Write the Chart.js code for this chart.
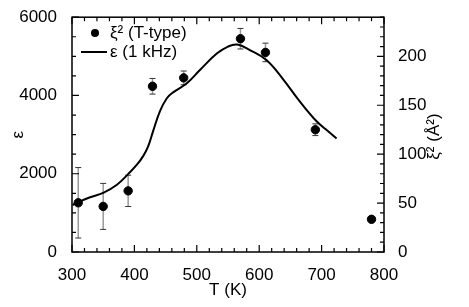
<!DOCTYPE html>
<html>
<head>
<meta charset="utf-8">
<script src="https://cdn.jsdelivr.net/npm/chart.js@4.4.0/dist/chart.umd.min.js"></script>
<style>
  html, body { margin: 0; padding: 0; background: #fff; }
  #wrap { width: 469px; height: 307px; }
</style>
</head>
<body>
<div id="wrap"><canvas id="chart" width="469" height="307"></canvas></div>
<script>
// ── Data ──────────────────────────────────────────────────────
// ξ² (T-type), right axis, with error bars
const xiTemps  = [310, 350, 390, 429, 479, 570, 610, 690, 780];
const xiValues = [50.3, 46.6, 62.5, 169.4, 178, 218, 204, 125, 33.4];
const xiErrors = [36, 23.5, 16, 8, 7, 10.5, 9.5, 6, 0];

// ε (1 kHz), left axis
const epsTemps  = [301, 308, 329, 350, 372, 390, 404, 414, 422, 430, 441, 452, 462, 484, 505, 532, 550, 565, 585, 612, 639, 665, 692, 710, 724];
const epsValues = [1200, 1260, 1400, 1510, 1720, 1990, 2230, 2450, 2700, 3090, 3600, 3930, 4080, 4310, 4650, 5070, 5250, 5300, 5160, 4900, 4400, 3850, 3340, 3090, 2900];

// axis ranges / tick steps
const xRange   = [300, 800];   const xMajor = 100;  const xMinor = 20;
const epsRange = [0, 6000];    const epsMajor = 2000; const epsMinor = 500;
const xiRange  = [0, 240];     const xiMajor = 50;  const xiMinor = 10;

const FONT = "'Liberation Sans', Arial, Helvetica, sans-serif";

// ── Frame, inward ticks, error bars, titles, legend ──────────
const framePlugin = {
  id: 'frame',
  beforeDatasetsDraw(chart) {
    const { ctx, scales: { x, y1 } } = chart;
    ctx.save();
    xiTemps.forEach((t, i) => {
      const e = xiErrors[i];
      if (!e) return;
      const px = x.getPixelForValue(t);
      const top = y1.getPixelForValue(xiValues[i] + e);
      const bot = y1.getPixelForValue(xiValues[i] - e);
      ctx.strokeStyle = '#999';
      ctx.lineWidth = 1.5;
      ctx.beginPath(); ctx.moveTo(px, top); ctx.lineTo(px, bot); ctx.stroke();
      ctx.strokeStyle = '#333';
      ctx.lineWidth = 1;
      ctx.beginPath();
      ctx.moveTo(px - 3, top); ctx.lineTo(px + 3, top);
      ctx.moveTo(px - 3, bot); ctx.lineTo(px + 3, bot);
      ctx.stroke();
    });
    ctx.restore();
  },
  afterDraw(chart) {
    const { ctx, chartArea: a, scales: { x, y, y1 } } = chart;
    ctx.save();
    ctx.strokeStyle = '#000';
    ctx.lineWidth = 1.5;
    ctx.strokeRect(a.left, a.top, a.right - a.left, a.bottom - a.top);

    ctx.lineWidth = 1.2;
    ctx.beginPath();
    for (let v = xRange[0]; v <= xRange[1]; v += xMinor) {
      const p = x.getPixelForValue(v);
      const len = v % xMajor === 0 ? 7 : 4;
      ctx.moveTo(p, a.bottom); ctx.lineTo(p, a.bottom - len);
      ctx.moveTo(p, a.top);    ctx.lineTo(p, a.top + len);
    }
    for (let v = epsRange[0]; v <= epsRange[1]; v += epsMinor) {
      const p = y.getPixelForValue(v);
      const len = v % epsMajor === 0 ? 7 : 4;
      ctx.moveTo(a.left, p); ctx.lineTo(a.left + len, p);
    }
    for (let v = xiRange[0]; v <= xiRange[1]; v += xiMinor) {
      const p = y1.getPixelForValue(v);
      const len = v % xiMajor === 0 ? 7 : 4;
      ctx.moveTo(a.right, p); ctx.lineTo(a.right - len, p);
    }
    ctx.stroke();

    // axis titles
    ctx.fillStyle = '#000';
    ctx.font = `17px ${FONT}`;
    ctx.textAlign = 'center';
    ctx.textBaseline = 'middle';
    ctx.fillText('T (K)', (a.left + a.right) / 2, 290);

    ctx.save();
    ctx.translate(18, (a.top + a.bottom) / 2);
    ctx.rotate(-Math.PI / 2);
    ctx.fillText('ε', 0, 0);
    ctx.restore();

    ctx.save();
    ctx.translate(434, (a.top + a.bottom) / 2 + 2);
    ctx.rotate(-Math.PI / 2);
    ctx.fillText('ξ² (Å²)', 0, 0);
    ctx.restore();

    // legend
    ctx.textAlign = 'left';
    ctx.beginPath();
    ctx.arc(95, 33, 4, 0, Math.PI * 2);
    ctx.fill();
    ctx.fillText('ξ² (T-type)', 110, 33);
    ctx.lineWidth = 2;
    ctx.beginPath();
    ctx.moveTo(81, 52); ctx.lineTo(107, 52);
    ctx.stroke();
    ctx.fillText('ε (1 kHz)', 110, 52);
    ctx.restore();
  }
};

const tickFont = { family: FONT, size: 17 };

new Chart(document.getElementById('chart'), {
  data: {
    datasets: [
      {
        type: 'scatter',
        label: 'ξ² (T-type)',
        data: xiTemps.map((t, i) => ({ x: t, y: xiValues[i] })),
        yAxisID: 'y1',
        backgroundColor: '#000',
        borderColor: '#000',
        pointRadius: 4.2,
        order: 0,
      },
      {
        type: 'line',
        label: 'ε (1 kHz)',
        data: epsTemps.map((t, i) => ({ x: t, y: epsValues[i] })),
        yAxisID: 'y',
        borderColor: '#000',
        borderWidth: 2,
        pointRadius: 0,
        tension: 0.4,
        fill: false,
        order: 1,
      }
    ]
  },
  options: {
    responsive: false,
    animation: false,
    layout: { padding: { top: 15, left: 0, right: 0, bottom: 0 } },
    plugins: { legend: { display: false }, tooltip: { enabled: false } },
    scales: {
      x: {
        type: 'linear', position: 'bottom',
        min: xRange[0], max: xRange[1],
        grid: { display: false }, border: { display: false },
        ticks: {
          stepSize: xMinor, autoSkip: false, maxRotation: 0, padding: 5,
          color: '#000', font: tickFont,
          callback: (v) => v % xMajor === 0 ? v : '',
        },
        afterFit: (s) => { s.height = 55; },
      },
      y: {
        type: 'linear', position: 'left',
        min: epsRange[0], max: epsRange[1],
        grid: { display: false }, border: { display: false },
        ticks: {
          stepSize: epsMinor, autoSkip: false, padding: 7,
          color: '#000', font: tickFont,
          callback: (v) => v % epsMajor === 0 ? v : '',
        },
        afterFit: (s) => { s.width = 72; },
      },
      y1: {
        type: 'linear', position: 'right',
        min: xiRange[0], max: xiRange[1],
        grid: { display: false }, border: { display: false },
        ticks: {
          stepSize: xiMinor, autoSkip: false, padding: 6,
          color: '#000', font: tickFont,
          callback: (v) => v % xiMajor === 0 ? v : '',
        },
        afterFit: (s) => { s.width = 85; },
      }
    }
  },
  plugins: [framePlugin]
});
</script>
</body>
</html>
